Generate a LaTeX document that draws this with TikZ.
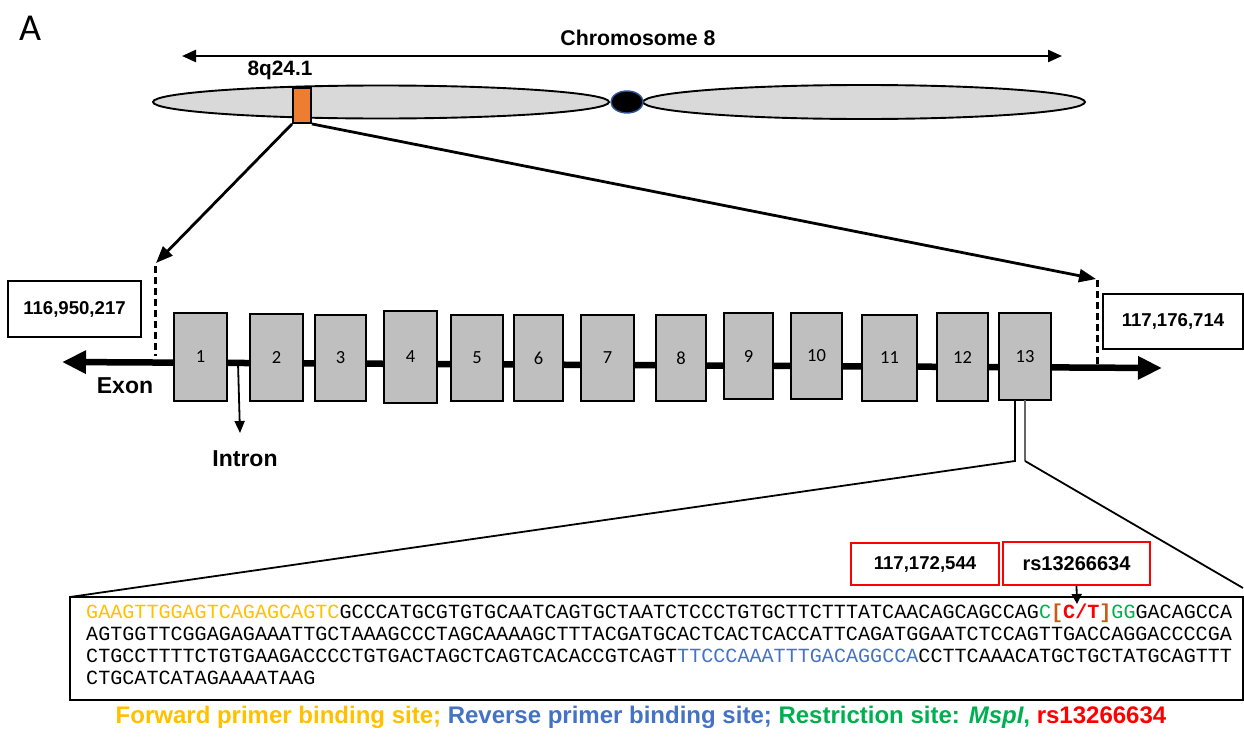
\documentclass[tikz,border=0pt]{standalone}
\usepackage{fontspec}
\setmainfont{Liberation Sans}
\newfontfamily\exonfont{Carlito}
\newfontfamily\seqfont{Liberation Mono}
\usetikzlibrary{arrows.meta,positioning,calc}

\definecolor{bandorange}{HTML}{ED7D31}
\definecolor{armgray}{HTML}{D9D9D9}
\definecolor{exongray}{HTML}{BFBFBF}
\definecolor{fwdcol}{HTML}{FFC000}
\definecolor{revcol}{HTML}{4472C4}
\definecolor{sitecol}{HTML}{00B050}
\definecolor{snpcol}{HTML}{FF0000}
\definecolor{brackcol}{HTML}{C55A11}
\definecolor{cenblue}{HTML}{2F5597}

\begin{document}
\begin{tikzpicture}[x=1pt,y=-1pt]
% ---------------------------------------------------------
% Dimensions (pixel grid of the figure, y grows downwards)
% ---------------------------------------------------------
\def\ChrY{102}        % axis of the chromosome
\def\ArrowY{56}       % chromosome 8 double arrow
\def\SeqX{86}         % left edge of the sequence text
\def\SeqStep{22}      % line spacing of the sequence

\useasboundingbox (0,0) rectangle (1244,736);

% ---------------------------------------------------------
% Styles
% ---------------------------------------------------------
\tikzset{
  arm style/.style={fill=armgray, draw=black, line width=1.9pt},
  band style/.style={fill=bandorange, draw=black, line width=1.9pt,
    minimum width=18pt, minimum height=35pt, inner sep=0pt},
  exon/.style={fill=exongray, draw=black, line width=2pt, inner sep=0pt,
    font=\exonfont\fontsize{18.5}{20}\selectfont},
  pos box/.style={fill=white, draw=black, line width=2pt, inner sep=0pt,
    font=\bfseries\fontsize{18.6}{20}\selectfont},
  snp box/.style={pos box, draw=snpcol},
  label text/.style={font=\bfseries\fontsize{22}{26}\selectfont},
  seq text/.style={anchor=base west, inner sep=0pt,
    font=\seqfont\fontsize{20.1}{22}\selectfont},
  chr arrow/.style={line width=2.3pt, {Triangle[length=14pt,width=12pt]}-{Triangle[length=14pt,width=12pt]}},
  zoom line/.style={line width=2.8pt, -{Triangle[length=17pt,width=13pt]}},
  end mark/.style={line width=3pt, dash pattern=on 7pt off 4pt},
  backbone/.style={line width=6.5pt, {Triangle[length=24pt,width=22pt]}-{Triangle[length=24pt,width=22pt]}},
  intron arrow/.style={line width=1.8pt, -{Triangle[length=12pt,width=10pt]}},
  thin zoom/.style={line width=1.8pt}
}

% =========================================================
% 1) CHROMOSOME 8
% =========================================================
\node[font=\exonfont\fontsize{38}{40}\selectfont] (panel) at (30,28) {A};

\coordinate (chrL) at (182,\ArrowY);
\coordinate (chrR) at (1062,\ArrowY);
\draw[chr arrow] (chrL) -- (chrR);
\node[label text, font=\bfseries\fontsize{21.3}{24}\selectfont] (chrname) at (638,38) {Chromosome 8};

\filldraw[arm style] (381,\ChrY) ellipse [x radius=228pt, y radius=16.5pt];
\filldraw[arm style] (864,\ChrY) ellipse [x radius=221pt, y radius=17pt];
\filldraw[fill=black, draw=cenblue, line width=1.4pt] (627,\ChrY) ellipse [x radius=16pt, y radius=11pt];

\node[band style] (band) at (302,105.5) {};
\node[label text, font=\bfseries\fontsize{20.8}{24}\selectfont] (locus) at (280,70) {8q24.1};

% =========================================================
% 2) ZOOM INTO THE GENE (arrows + dashed end marks)
% =========================================================
\coordinate (dashL) at (156,263);
\coordinate (dashR) at (1096,279);
\draw[zoom line] (band.south west) -- (dashL);
\draw[zoom line] (band.south east) -- (dashR);
\draw[end mark] (155,266) -- (155,356);
\draw[end mark] (1097,280) -- (1097,366);

\node[pos box, minimum width=133pt, minimum height=56pt] (startpos) at (74.5,309) {116,950,217};
\node[pos box, minimum width=140pt, minimum height=55pt] (endpos) at (1173,321.5) {117,176,714};

% =========================================================
% 3) GENE: BACKBONE + 13 EXONS
% =========================================================
\coordinate (geneL) at (62,362);
\coordinate (geneR) at (1162,368);
\draw[backbone] (geneL) -- (geneR);

\foreach \n/\xl/\xr/\yt/\yb in {
  1/174/227/313/401, 2/250/303/314/401, 3/315/366/315/401,
  4/384/437/311/403, 5/451/503/315/401, 6/514/563/315/401,
  7/581/634/315/401, 8/656/706/315/401, 9/724/773/313/399,
  10/791/842/313/399, 11/862/917/315/401, 12/937/988/313/401,
  13/999/1051/313/400} {
  \pgfmathsetmacro{\cx}{(\xl+\xr)/2}
  \pgfmathsetmacro{\cy}{(\yt+\yb)/2}
  \pgfmathsetmacro{\w}{\xr-\xl}
  \pgfmathsetmacro{\h}{\yb-\yt}
  \node[exon, minimum width=\w pt, minimum height=\h pt] (e\n) at (\cx,\cy) {\n};
}

\node[label text, font=\bfseries\fontsize{23}{26}\selectfont] (exonlbl) at (125,386) {Exon};
\node[label text, font=\bfseries\fontsize{23}{26}\selectfont] (intronlbl) at (245,459) {Intron};
\coordinate (intr) at (238,363);
\coordinate (intrtip) at (240,433);
\draw[intron arrow] (intr) -- (intrtip);

% =========================================================
% 4) ZOOM INTO EXON 13
% =========================================================
\coordinate (z13a) at (1015,400);
\coordinate (z13b) at (1025,400);
\coordinate (seqTL) at (70,597);
\coordinate (seqTR) at (1243,588);
\draw[thin zoom] (z13a) -- (1015,461) -- (seqTL);
\draw[thin zoom, draw=black!60] (z13b) -- (1025,461);
\draw[thin zoom] (1025,461) -- (seqTR);

\draw[line width=2pt] (seqTL) rectangle (1243,700);

\node[snp box, minimum width=148pt, minimum height=42pt] (snppos) at (925,564) {117,172,544};
\node[snp box, minimum width=147pt, minimum height=43pt,
  font=\bfseries\fontsize{20}{22}\selectfont] (snpid) at (1076.5,563.5) {rs13266634};
\coordinate (snptip) at (1077,604);
\draw[line width=1.8pt, -{Triangle[length=10pt,width=10pt]}] (snpid.south) -- (snptip);

% =========================================================
% 5) SEQUENCE
% =========================================================
\node[seq text] (seq1) at (\SeqX,618)
  {\textcolor{fwdcol}{GAAGTTGGAGTCAGAGCAGTC}GCCCATGCGTGTGCAATCAGTGCTAATCTCCCTGTGCTTCTTTATCAACAGCAGCCAG\textcolor{sitecol}{C}\textbf{\textcolor{brackcol}{[}\textcolor{snpcol}{C/T}\textcolor{brackcol}{]}}\textcolor{sitecol}{GG}GACAGCCA};
\node[seq text] (seq2) at (\SeqX,618+\SeqStep)
  {AGTGGTTCGGAGAGAAATTGCTAAAGCCCTAGCAAAAGCTTTACGATGCACTCACTCACCATTCAGATGGAATCTCCAGTTGACCAGGACCCCGA};
\node[seq text] (seq3) at (\SeqX,618+2*\SeqStep)
  {CTGCCTTTTCTGTGAAGACCCCTGTGACTAGCTCAGTCACACCGTCAGT\textcolor{revcol}{TTCCCAAATTTGACAGGCCA}CCTTCAAACATGCTGCTATGCAGTTT};
\node[seq text] (seq4) at (\SeqX,618+3*\SeqStep)
  {CTGCATCATAGAAAATAAG};

% =========================================================
% 6) LEGEND
% =========================================================
\node[label text, font=\bfseries\fontsize{24}{26}\selectfont] (legend) at (641,717)
  {\textcolor{fwdcol}{Forward primer binding site;} \textcolor{revcol}{Reverse primer binding site;} \textcolor{sitecol}{Restriction site: \textit{MspI},} \textcolor{snpcol}{rs13266634}};

\end{tikzpicture}
\end{document}
